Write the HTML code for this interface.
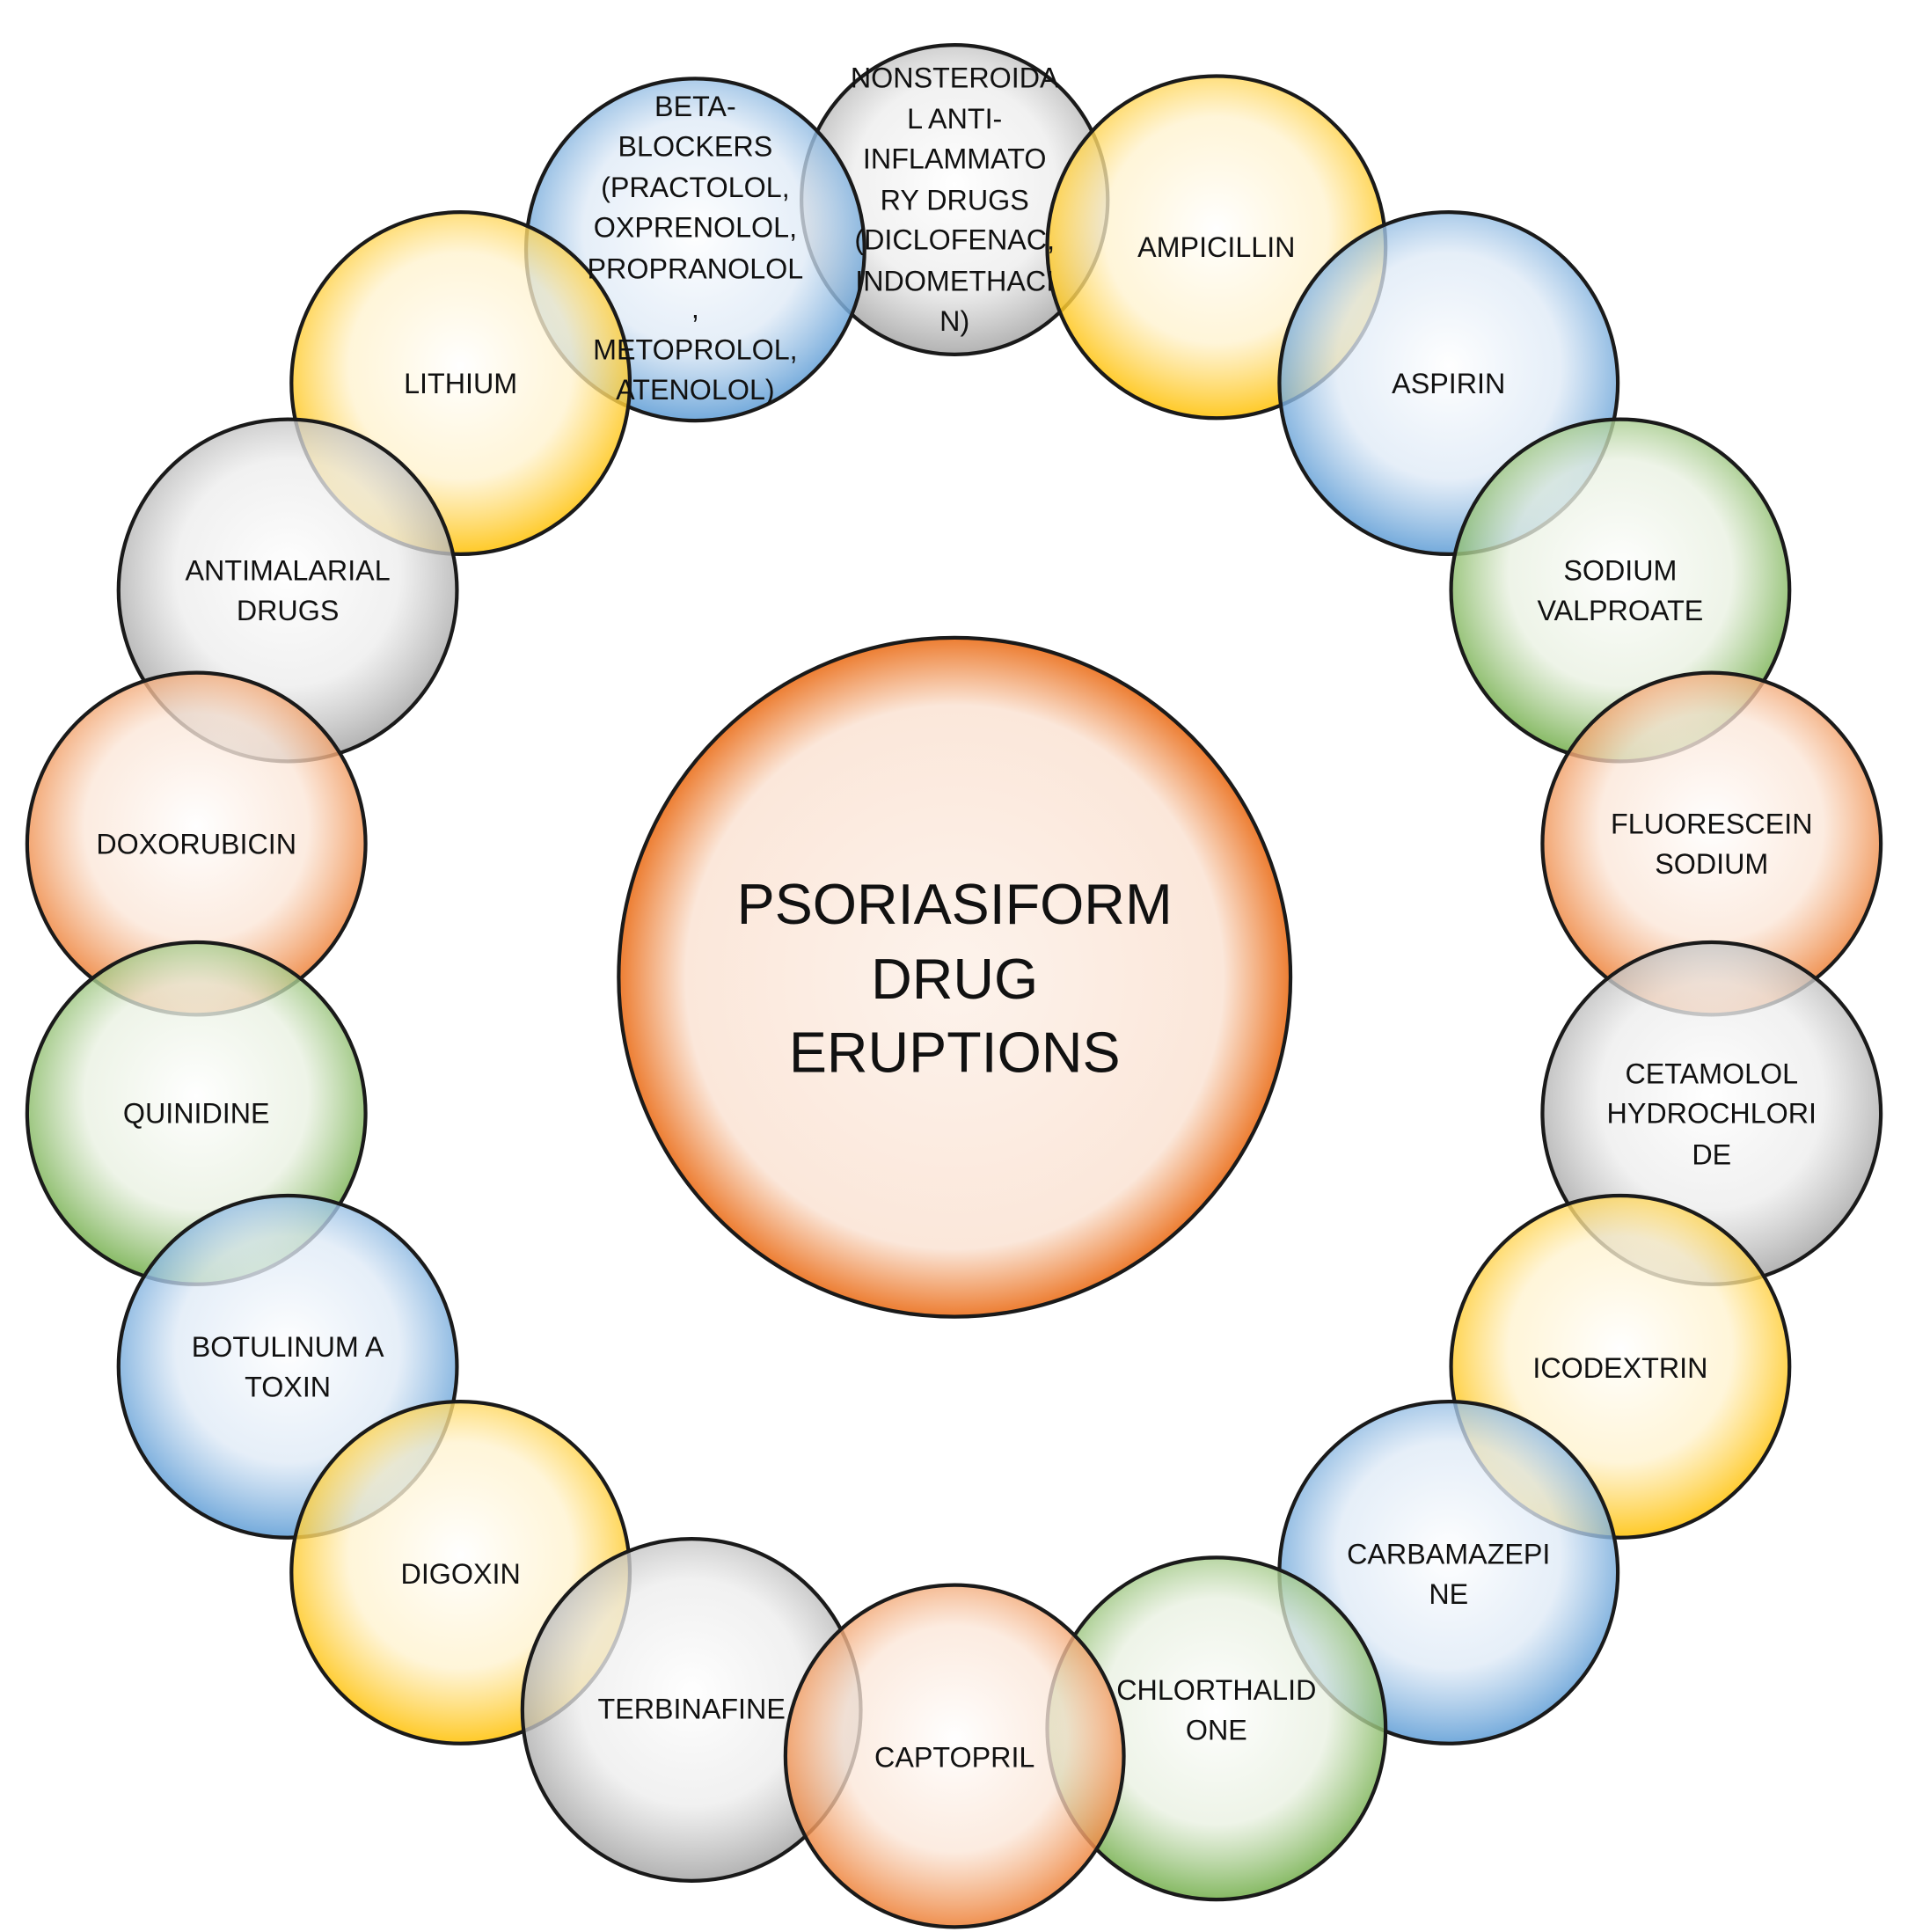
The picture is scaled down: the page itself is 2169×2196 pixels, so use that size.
<!DOCTYPE html>
<html><head><meta charset="utf-8"><style>html,body{margin:0;padding:0;background:#fff}svg{display:block}</style></head>
<body>
<svg width="2169" height="2196" viewBox="0 0 1545 1548" preserveAspectRatio="none" xmlns="http://www.w3.org/2000/svg">
<defs>
<radialGradient id="gb" cx="50%" cy="45%" r="55%"><stop offset="0" stop-color="#fff" stop-opacity="0.9"/><stop offset="0.6" stop-color="#dde9f6" stop-opacity="0.75"/><stop offset="1" stop-color="#5b9bd5" stop-opacity="0.85"/></radialGradient>
<radialGradient id="gy" cx="50%" cy="45%" r="55%"><stop offset="0" stop-color="#fff" stop-opacity="0.9"/><stop offset="0.6" stop-color="#fff2cc" stop-opacity="0.75"/><stop offset="1" stop-color="#ffc000" stop-opacity="0.85"/></radialGradient>
<radialGradient id="gg" cx="50%" cy="45%" r="55%"><stop offset="0" stop-color="#fff" stop-opacity="0.9"/><stop offset="0.6" stop-color="#e8f0e0" stop-opacity="0.75"/><stop offset="1" stop-color="#70ad47" stop-opacity="0.85"/></radialGradient>
<radialGradient id="go" cx="50%" cy="45%" r="55%"><stop offset="0" stop-color="#fff" stop-opacity="0.9"/><stop offset="0.6" stop-color="#fbe5d6" stop-opacity="0.75"/><stop offset="1" stop-color="#ed7d31" stop-opacity="0.85"/></radialGradient>
<radialGradient id="ga" cx="50%" cy="45%" r="55%"><stop offset="0" stop-color="#fff" stop-opacity="0.9"/><stop offset="0.6" stop-color="#ececec" stop-opacity="0.75"/><stop offset="1" stop-color="#a5a5a5" stop-opacity="0.85"/></radialGradient>
<radialGradient id="gc" cx="50%" cy="50%" r="50%"><stop offset="0" stop-color="#fdf3ec"/><stop offset="0.8" stop-color="#fbe7da"/><stop offset="1" stop-color="#ed7d31"/></radialGradient>
</defs>
<g stroke="#1a1a1a" stroke-width="3">
<circle cx="773" cy="783" r="272" fill="url(#gc)"/>
<circle cx="773" cy="160" r="124" fill="url(#ga)"/>
<circle cx="563" cy="200" r="137" fill="url(#gb)"/>
<circle cx="985" cy="198" r="137" fill="url(#gy)"/>
<circle cx="373" cy="307" r="137" fill="url(#gy)"/>
<circle cx="1173" cy="307" r="137" fill="url(#gb)"/>
<circle cx="233" cy="473" r="137" fill="url(#ga)"/>
<circle cx="1312" cy="473" r="137" fill="url(#gg)"/>
<circle cx="159" cy="676" r="137" fill="url(#go)"/>
<circle cx="1386" cy="676" r="137" fill="url(#go)"/>
<circle cx="159" cy="892" r="137" fill="url(#gg)"/>
<circle cx="1386" cy="892" r="137" fill="url(#ga)"/>
<circle cx="233" cy="1095" r="137" fill="url(#gb)"/>
<circle cx="1312" cy="1095" r="137" fill="url(#gy)"/>
<circle cx="373" cy="1260" r="137" fill="url(#gy)"/>
<circle cx="1173" cy="1260" r="137" fill="url(#gb)"/>
<circle cx="560" cy="1370" r="137" fill="url(#ga)"/>
<circle cx="985" cy="1385" r="137" fill="url(#gg)"/>
<circle cx="773" cy="1407" r="137" fill="url(#go)"/>
</g>
<g font-family="'Liberation Sans Narrow','Liberation Sans',sans-serif" font-size="23" fill="#111" text-anchor="middle">
<text x="773" y="70">NONSTEROIDA</text><text x="773" y="103">L ANTI-</text><text x="773" y="135">INFLAMMATO</text><text x="773" y="168">RY DRUGS</text><text x="773" y="200">(DICLOFENAC,</text><text x="773" y="233">INDOMETHACI</text><text x="773" y="265">N)</text>
<text x="563" y="93">BETA-</text><text x="563" y="125">BLOCKERS</text><text x="563" y="158">(PRACTOLOL,</text><text x="563" y="190">OXPRENOLOL,</text><text x="563" y="223">PROPRANOLOL</text><text x="563" y="255">,</text><text x="563" y="288">METOPROLOL,</text><text x="563" y="320">ATENOLOL)</text>
<text x="985" y="206">AMPICILLIN</text>
<text x="373" y="315">LITHIUM</text>
<text x="1173" y="315">ASPIRIN</text>
<text x="233" y="465">ANTIMALARIAL</text><text x="233" y="497">DRUGS</text>
<text x="1312" y="465">SODIUM</text><text x="1312" y="497">VALPROATE</text>
<text x="159" y="684">DOXORUBICIN</text>
<text x="1386" y="668">FLUORESCEIN</text><text x="1386" y="700">SODIUM</text>
<text x="159" y="900">QUINIDINE</text>
<text x="1386" y="868">CETAMOLOL</text><text x="1386" y="900">HYDROCHLORI</text><text x="1386" y="933">DE</text>
<text x="233" y="1087">BOTULINUM A</text><text x="233" y="1119">TOXIN</text>
<text x="1312" y="1104">ICODEXTRIN</text>
<text x="373" y="1269">DIGOXIN</text>
<text x="1173" y="1253">CARBAMAZEPI</text><text x="1173" y="1285">NE</text>
<text x="560" y="1377">TERBINAFINE</text>
<text x="985" y="1362">CHLORTHALID</text><text x="985" y="1394">ONE</text>
<text x="773" y="1416">CAPTOPRIL</text>
</g>
<g font-family="'Liberation Sans Narrow','Liberation Sans',sans-serif" font-size="46" fill="#111" text-anchor="middle">
<text x="773" y="740">PSORIASIFORM</text><text x="773" y="800">DRUG</text><text x="773" y="859">ERUPTIONS</text>
</g>
</svg>
</body></html>
